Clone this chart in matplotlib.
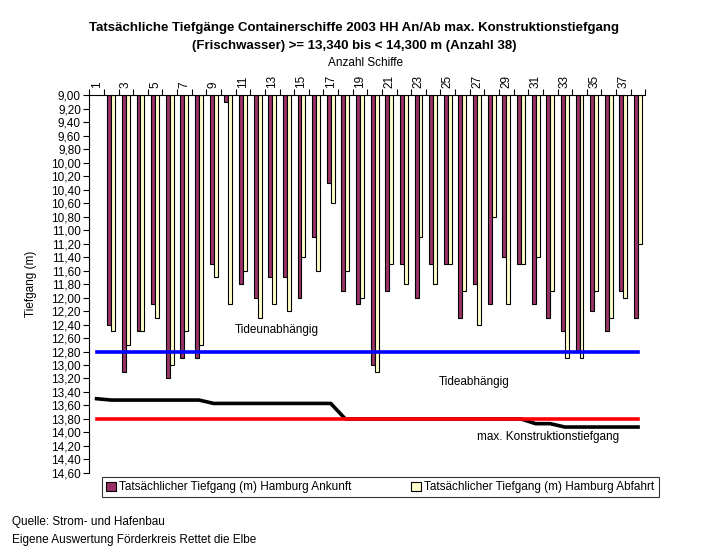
import numpy as np
import matplotlib
matplotlib.use("Agg")
import matplotlib.pyplot as plt
from matplotlib.patches import Patch

plt.rcParams['font.family'] = ['Liberation Sans', 'DejaVu Sans']

# ship number 1..38 (first ship has no bars in the source)
ships = np.arange(1, 39)

ankunft = [np.nan, 12.40, 13.10, 12.50, 12.10, 13.20, 12.90, 12.90, 11.50, 9.10,
           11.80, 12.00, 11.70, 11.70, 12.00, 11.10, 10.30, 11.90, 12.10, 13.00,
           11.90, 11.50, 12.00, 11.50, 11.50, 12.30, 11.80, 12.10, 11.40, 11.50,
           12.10, 12.30, 12.50, 12.80, 12.20, 12.50, 11.90, 12.30]

abfahrt = [np.nan, 12.50, 12.70, 12.50, 12.30, 13.00, 12.50, 12.70, 11.70, 12.10,
           11.60, 12.30, 12.10, 12.20, 11.40, 11.60, 10.60, 11.60, 12.00, 13.10,
           11.50, 11.80, 11.10, 11.80, 11.50, 11.90, 12.40, 10.80, 12.10, 11.50,
           11.40, 11.90, 12.90, 12.90, 11.90, 12.30, 12.00, 11.20]

# max. Konstruktionstiefgang per ship (step line)
konstruktion = [13.50, 13.52, 13.52, 13.52, 13.52, 13.52, 13.52, 13.52, 13.57, 13.57,
                13.57, 13.57, 13.57, 13.57, 13.57, 13.57, 13.57, 13.80, 13.80, 13.80,
                13.80, 13.80, 13.80, 13.80, 13.80, 13.80, 13.80, 13.80, 13.80, 13.80,
                13.87, 13.87, 13.92, 13.92, 13.92, 13.92, 13.92, 13.92]

tideunabhaengig = 12.80
grenze = 13.80

y_ticks = np.arange(9.0, 14.61, 0.2)
x_labels = [str(s) if s % 2 == 1 else "" for s in ships]

fig = plt.figure(figsize=(7.03, 5.57), dpi=100)
ax = fig.add_axes([0.127, 0.151, 0.791, 0.678])

w = 0.27
base = 9.0
ax.bar(ships - w / 2, np.array(ankunft) - base, width=w, bottom=base,
       color="#993366", edgecolor="black", linewidth=0.8, zorder=2)
ax.bar(ships + w / 2, np.array(abfahrt) - base, width=w, bottom=base,
       color="#FFFFCC", edgecolor="black", linewidth=0.8, zorder=2)

ax.plot(ships, np.full(len(ships), tideunabhaengig), color="#0000FF", lw=2.6, zorder=3)
ax.plot(ships, konstruktion, color="black", lw=2.6, zorder=3)
ax.plot(ships, np.full(len(ships), grenze), color="#FF0000", lw=2.6, zorder=4)

ax.set_xlim(0.5, 38.5)
ax.set_ylim(14.6, 9.0)

ax.set_yticks(y_ticks)
ax.set_yticklabels([f"{v:.2f}".replace(".", ",") for v in y_ticks], fontsize=8.5)
ax.tick_params(axis="y", direction="out", length=4, width=0.8, pad=2)

ax.xaxis.tick_top()
ax.set_xticks(ships)
ax.set_xticklabels(x_labels, rotation=90, fontsize=8.5)
ax.set_xticks(np.arange(0.5, 39, 1), minor=True)
ax.tick_params(axis="x", which="major", length=0, pad=5)
ax.tick_params(axis="x", which="minor", direction="out", length=4, width=0.8)

for s in ["right", "bottom"]:
    ax.spines[s].set_visible(False)
for s in ["left", "top"]:
    ax.spines[s].set_linewidth(0.8)

ax.set_ylabel("Tiefgang (m)", fontsize=8.5, labelpad=10)

ax.text(10.45, 12.48, "Tideunabhängig", fontsize=8.5, va="center")
ax.text(24.4, 13.25, "Tideabhängig", fontsize=8.5, va="center")
ax.text(27.0, 14.07, "max. Konstruktionstiefgang", fontsize=8.5, va="center")

fig.text(0.504, 0.950, "Tatsächliche Tiefgänge Containerschiffe 2003 HH An/Ab max. Konstruktionstiefgang",
         ha="center", va="center", fontsize=9.5, fontweight="bold")
fig.text(0.504, 0.918, "(Frischwasser) >= 13,340 bis < 14,300 m (Anzahl 38)",
         ha="center", va="center", fontsize=9.5, fontweight="bold")
fig.text(0.52, 0.887, "Anzahl Schiffe", ha="center", va="center", fontsize=8.5)

handles = [Patch(facecolor="#993366", edgecolor="black", linewidth=0.8),
           Patch(facecolor="#FFFFCC", edgecolor="black", linewidth=0.8)]
leg = fig.legend(handles,
                 ["Tatsächlicher Tiefgang (m) Hamburg Ankunft",
                  "Tatsächlicher Tiefgang (m) Hamburg Abfahrt"],
                 loc="upper left", bbox_to_anchor=(0.145, 0.1036, 0.792, 0.04),
                 mode="expand", ncol=2, fontsize=8.5, frameon=True, fancybox=False,
                 handlelength=0.8, handleheight=0.8, handletextpad=0.3,
                 borderpad=0.35, borderaxespad=0, columnspacing=3)
leg.get_frame().set_edgecolor("black")
leg.get_frame().set_linewidth(0.8)

fig.text(0.017, 0.062, "Quelle: Strom- und Hafenbau", fontsize=8.5, va="center")
fig.text(0.017, 0.030, "Eigene Auswertung Förderkreis Rettet die Elbe", fontsize=8.5, va="center")

fig.savefig("out.png", dpi=100)
